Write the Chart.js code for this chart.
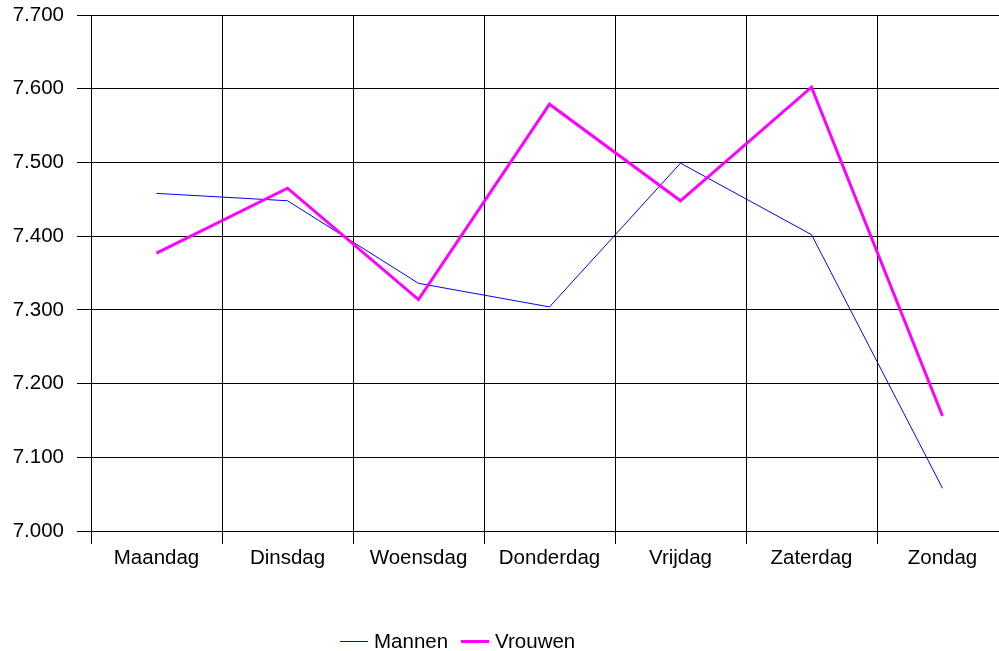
<!DOCTYPE html>
<html>
<head>
<meta charset="utf-8">
<script src="https://cdn.jsdelivr.net/npm/chart.js@4/dist/chart.umd.min.js"></script>
<style>
  html, body { margin: 0; padding: 0; background: #fff; overflow: hidden; }
  #wrap { position: absolute; left: 0; top: 0; width: 1012px; height: 651px; }
  #legend {
    position: absolute; left: 340px; top: 629px;
    font-family: "Liberation Sans", Arial, sans-serif; font-size: 20.5px; color: #000;
    display: flex; align-items: center; white-space: nowrap;
  }
  .item { display: flex; align-items: center; margin-right: 13px; }
  .swatch { display: inline-block; width: 28px; margin-right: 6px; }
</style>
</head>
<body>
<div id="wrap"><canvas id="c"></canvas></div>
<div id="legend"></div>
<script>
// gegevens
const dagen = ["Maandag", "Dinsdag", "Woensdag", "Donderdag", "Vrijdag", "Zaterdag", "Zondag"];
const mannen = [7458, 7448, 7336, 7304, 7499, 7402, 7058];
const vrouwen = [7377, 7465, 7314, 7579, 7448, 7602, 7156];
const yMin = 7000, yMax = 7700, yStap = 100;

const FONT = { family: '"Liberation Sans", Arial, sans-serif', size: 20.5 };

// 7700 -> "7.700"
function fmt(v) {
  return Math.floor(v / 1000) + "." + String(v % 1000).padStart(3, "0");
}

const series = [
  { label: "Mannen", data: mannen, color: "#0000ff", width: 1, order: 1 },
  { label: "Vrouwen", data: vrouwen, color: "#ff00ff", width: 3, order: 0 }
];

new Chart(document.getElementById("c"), {
  type: "line",
  data: {
    labels: dagen,
    datasets: series.map(s => ({
      label: s.label, data: s.data, borderColor: s.color, backgroundColor: s.color,
      borderWidth: s.width, pointRadius: 0, tension: 0, order: s.order
    }))
  },
  options: {
    responsive: true, maintainAspectRatio: false, animation: false,
    layout: { padding: { left: 0, right: 4, top: 15, bottom: 80 } },
    plugins: { legend: { display: false }, tooltip: { enabled: false } },
    scales: {
      x: {
        offset: true,
        grid: { offset: true, color: "#000", lineWidth: 1, tickLength: 13, tickColor: "#000" },
        border: { color: "#000" },
        ticks: { color: "#000", font: FONT, padding: 2, maxRotation: 0 },
        afterFit: (s) => { s.height = 40; }
      },
      y: {
        min: yMin, max: yMax,
        grid: { color: "#000", lineWidth: 1, tickLength: 14, tickColor: "#000" },
        border: { color: "#000" },
        ticks: { stepSize: yStap, color: "#000", font: FONT, padding: 13, callback: (v) => fmt(v) },
        afterFit: (s) => { s.width = 91; s.paddingTop = 0; s.paddingBottom = 0; }
      }
    }
  }
});

// legenda
const legendEl = document.getElementById("legend");
legendEl.innerHTML = series.map(s =>
  `<span class="item"><span class="swatch" style="height:${s.width === 1 ? 1 : 3}px;background:${s.color}"></span>${s.label}</span>`
).join("");
</script>
</body>
</html>
